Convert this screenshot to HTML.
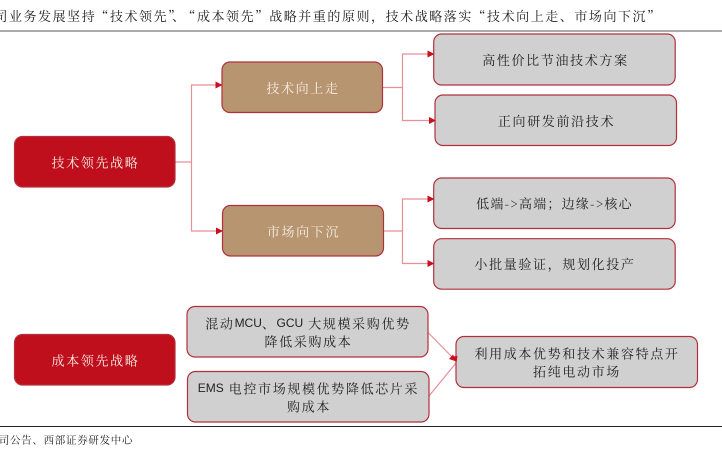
<!DOCTYPE html>
<html><head><meta charset="utf-8"><style>
html,body{margin:0;padding:0;background:#fff;width:722px;height:452px;overflow:hidden}
svg{display:block}
text{font-family:"Noto Serif CJK SC","Liberation Serif",serif;font-size:13px;letter-spacing:1.65px;fill:#222;text-anchor:middle;dominant-baseline:central}
.w{fill:#f6eee6}
.l{text-anchor:start}
.s{font-family:"Liberation Sans",sans-serif;letter-spacing:0;font-size:12px}
rect{stroke:#b2303c;stroke-width:1.2}
.g{fill:#d0d0d0}.b{fill:#b79571}.r{fill:#c00f1c}
.c{fill:none;stroke:#e88f98;stroke-width:1.2}
.a{fill:#c8101e;stroke:none}
</style></head><body>
<svg width="722" height="452" viewBox="0 0 722 452" xmlns="http://www.w3.org/2000/svg">
<text class="l" y="15" style="letter-spacing:1.55px"><tspan x="-5.6">司业务发展坚持</tspan><tspan x="95.4">“技术领先”</tspan><tspan x="172">、</tspan><tspan x="182.4">“成本领先”</tspan><tspan x="269.2">战略并重的原则，技术战略落实</tspan><tspan x="472.5">“技术向上走、市场向下沉”</tspan></text>
<line x1="0" y1="31" x2="722" y2="31" stroke="#555" stroke-width="1"/>
<line x1="0" y1="426.5" x2="722" y2="426.5" stroke="#222" stroke-width="1"/>
<text class="l" x="-1.2" y="440" style="font-size:10.500px;letter-spacing:.7px">司公告、西部证券研发中心</text>

<path class="c" d="M175 162H191.500M222 85H191.500V231H222"/>
<path class="c" d="M383 87.500H402.500M433 54H402.500V120.500H435"/>
<path class="c" d="M383 231H402.500M433 199H402.500V263.500H433"/>
<path class="c" d="M428.500 333L456 361M429 396L456 363"/>

<rect class="r" x="14.500" y="136.500" width="160.500" height="50.500" rx="8"/>
<rect class="r" x="14.500" y="334.500" width="160.500" height="50.500" rx="8"/>
<rect class="b" x="222" y="62" width="160.500" height="50.500" rx="8"/>
<rect class="b" x="222.500" y="205.500" width="161" height="50.500" rx="8"/>
<rect class="g" x="433.700" y="34" width="241.500" height="51" rx="8"/>
<rect class="g" x="435" y="95" width="241.500" height="50.500" rx="8"/>
<rect class="g" x="433.700" y="178" width="241.500" height="50.500" rx="8"/>
<rect class="g" x="433.700" y="238.700" width="241.500" height="50.500" rx="8"/>
<rect class="g" x="187" y="306.500" width="241" height="50.500" rx="8"/>
<rect class="g" x="187.500" y="371.500" width="241.500" height="50.500" rx="8"/>
<rect class="g" x="456" y="336.500" width="241.500" height="51" rx="8"/>

<path class="a" d="M222.500 85l-7-3.500v7zM434.500 54l-7-3.500v7zM436 120.500l-7-3.500v7zM223 231l-7-3.500v7zM434.500 199l-7-3.500v7zM434.500 263.500l-7-3.500v7zM456.500 361.500l-7.500-2.500 4-4.500zM456.500 362.500l-4-6 5-.5z"/>

<text class="w" x="95.500" y="162">技术领先战略</text>
<text class="w" x="95.500" y="360">成本领先战略</text>
<text class="w" x="303" y="87.500">技术向上走</text>
<text class="w" x="303.500" y="231">市场向下沉</text>
<text x="555.500" y="59.500">高性价比节油技术方案</text>
<text x="556.500" y="120.500">正向研发前沿技术</text>
<text x="554.500" y="203" style="letter-spacing:1.2px">低端-&gt;高端；边缘-&gt;核心</text>
<text x="555" y="263.500">小批量验证，规划化投产</text>
<text x="308" y="323">混动<tspan class="s">MCU</tspan>、<tspan class="s">GCU</tspan> 大规模采购优势</text>
<text x="308.500" y="341">降低采购成本</text>
<text x="308.500" y="388"><tspan class="s">EMS</tspan> 电控市场规模优势降低芯片采</text>
<text x="309" y="406">购成本</text>
<text x="577" y="353">利用成本优势和技术兼容特点开</text>
<text x="577" y="371">拓纯电动市场</text>
</svg>
</body></html>
